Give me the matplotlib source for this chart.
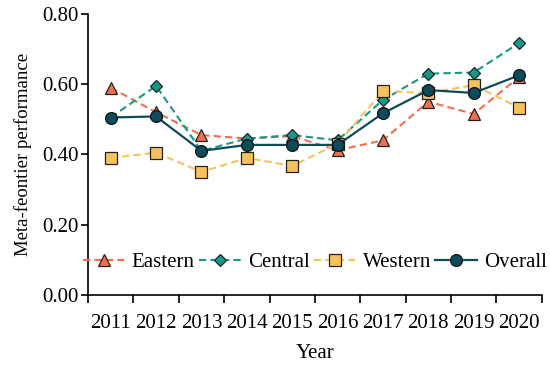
import matplotlib.pyplot as plt
import numpy as np

years = ['2011', '2012', '2013', '2014', '2015', '2016', '2017', '2018', '2019', '2020']
eastern = [0.59, 0.52, 0.455, 0.445, 0.452, 0.412, 0.44, 0.55, 0.515, 0.62]
central = [0.505, 0.595, 0.41, 0.445, 0.455, 0.44, 0.555, 0.63, 0.633, 0.717]
western = [0.39, 0.405, 0.35, 0.39, 0.367, 0.43, 0.58, 0.575, 0.597, 0.533]
overall = [0.505, 0.508, 0.41, 0.427, 0.427, 0.427, 0.517, 0.583, 0.575, 0.625]

plt.rcParams['font.family'] = ['Liberation Serif', 'DejaVu Serif']
fs = 15

fig = plt.figure(figsize=(5.5, 3.65), dpi=100)
ax = fig.add_axes([0.16, 0.192, 0.825, 0.77])

x = np.arange(len(years))
ax.plot(x, eastern, '--', color='#F26E50', lw=1.5, dashes=(3.5, 2),
        marker='^', ms=8.5, mfc='#F26E50', mec='#222222', mew=0.9, label='Eastern')
ax.plot(x, central, '--', color='#17988A', lw=1.5, dashes=(3.5, 2),
        marker='D', ms=6, mfc='#17988A', mec='#222222', mew=0.9, label='Central')
ax.plot(x, western, '--', color='#F7C25E', lw=1.5, dashes=(3.5, 2),
        marker='s', ms=8, mfc='#F7C25E', mec='#222222', mew=0.9, label='Western')
ax.plot(x, overall, '-', color='#0E4B5A', lw=1.6,
        marker='o', ms=8.5, mfc='#0E4B5A', mec='#111111', mew=0.9, label='Overall')

ax.set_xlim(-0.5, len(years) - 0.5)
ax.set_ylim(0, 0.8)
ax.set_yticks([0, 0.2, 0.4, 0.6, 0.8])
ax.set_yticklabels(['0.00', '0.20', '0.40', '0.60', '0.80'])

# category axis: ticks on boundaries, labels at centres
ax.set_xticks(np.arange(-0.5, len(years), 1.0))
ax.set_xticklabels([])
ax.set_xticks(x, minor=True)
ax.set_xticklabels(years, minor=True)
ax.tick_params(axis='x', which='major', length=6, width=1.2)
ax.tick_params(axis='x', which='minor', length=0, pad=14, labelsize=fs)
ax.tick_params(axis='y', length=5, width=1.2, labelsize=fs, pad=2)

for s in ['top', 'right']:
    ax.spines[s].set_visible(False)
for s in ['left', 'bottom']:
    ax.spines[s].set_linewidth(1.2)

ax.set_xlabel('Year', fontsize=fs, labelpad=8)
ax.set_ylabel('Meta-feontier performance', fontsize=13.5, labelpad=7)

ax.legend(loc='center', bbox_to_anchor=(0.5, 0.117), ncol=4, frameon=False,
          fontsize=fs, handlelength=2.0, handletextpad=0.35, columnspacing=0.2,
          borderaxespad=0)

fig.savefig('out.png', dpi=100)
